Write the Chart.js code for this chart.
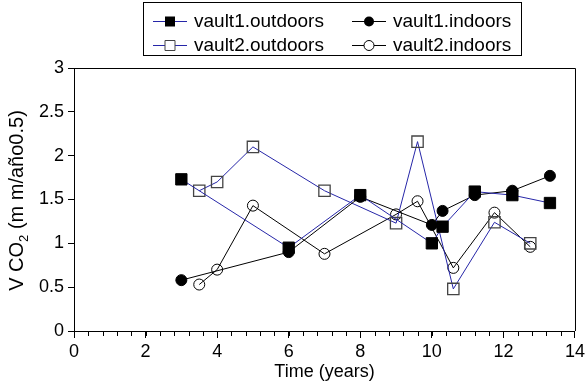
<!DOCTYPE html>
<html>
<head>
<meta charset="utf-8">
<script src="https://cdn.jsdelivr.net/npm/chart.js@4.4.1/dist/chart.umd.min.js"></script>
<style>
  html, body { margin: 0; padding: 0; background: #fff; }
  #wrap { width: 588px; height: 390px; }
</style>
</head>
<body>
<div id="wrap"><canvas id="chart" width="588" height="390"></canvas></div>
<script>
// sampling times (years) for each vault
const vault1Years = [3, 6, 8, 10, 10.3, 11.2, 12.25, 13.3];
const vault2Years = [3.5, 4, 5, 7, 9, 9.6, 10.6, 11.75, 12.75];

// carbonation rate, mm/año^0.5
const vault1Outdoors = [1.73, 0.95, 1.55, 1.0, 1.19, 1.59, 1.55, 1.46];
const vault1Indoors = [0.58, 0.90, 1.53, 1.21, 1.37, 1.55, 1.60, 1.77];
const vault2Outdoors = [1.60, 1.70, 2.10, 1.60, 1.23, 2.16, 0.48, 1.24, 1.0];
const vault2Indoors = [0.53, 0.70, 1.43, 0.88, 1.33, 1.48, 0.72, 1.35, 0.96];

const seriesNames = ['vault1.outdoors', 'vault1.indoors', 'vault2.outdoors', 'vault2.indoors'];
const xTicks = [0, 2, 4, 6, 8, 10, 12, 14];
const yTicks = [0, 0.5, 1, 1.5, 2, 2.5, 3];

const FONT = '"Liberation Sans", Arial, Helvetica, sans-serif';
const BLUE = '#2626a8';

const toPoints = (xs, ys) => xs.map((x, i) => ({ x: x, y: ys[i] }));

// little helper used by the legend to draw the same markers
function marker(ctx, style, filled, x, y, r) {
  ctx.beginPath();
  if (style === 'rect') {
    ctx.rect(x - r, y - r, 2 * r, 2 * r);
  } else {
    ctx.arc(x, y, r, 0, Math.PI * 2);
  }
  if (filled) {
    ctx.fillStyle = '#000';
    ctx.fill();
  } else {
    ctx.fillStyle = '#fff';
    ctx.fill();
    ctx.strokeStyle = style === 'rect' ? '#444' : '#000';
    ctx.lineWidth = 1;
    ctx.stroke();
  }
}

const framePlugin = {
  id: 'frame',
  afterDraw(chart) {
    const ctx = chart.ctx;
    const a = chart.chartArea;
    const xs = chart.scales.x;
    ctx.save();

    // top and right edges of the plot box
    ctx.strokeStyle = '#000';
    ctx.lineWidth = 1;
    ctx.beginPath();
    ctx.moveTo(a.left, a.top + 0.5);
    ctx.lineTo(a.right + 0.5, a.top + 0.5);
    ctx.lineTo(a.right + 0.5, a.bottom);
    ctx.stroke();

    // minor ticks on the time axis
    ctx.beginPath();
    for (let v = 0.4; v < 14; v += 0.4) {
      const px = Math.round(xs.getPixelForValue(v)) + 0.5;
      ctx.moveTo(px, a.bottom);
      ctx.lineTo(px, a.bottom + 5);
    }
    ctx.stroke();

    // y axis title with subscript
    ctx.fillStyle = '#000';
    ctx.translate(17, (a.top + a.bottom) / 2 + 1);
    ctx.rotate(-Math.PI / 2);
    ctx.textBaseline = 'middle';
    const main = '20px ' + FONT;
    const sub = '13px ' + FONT;
    ctx.font = main;
    const p1 = 'V CO';
    const p3 = ' (m m/año0.5)';
    const w1 = ctx.measureText(p1).width;
    const w3 = ctx.measureText(p3).width;
    ctx.font = sub;
    const w2 = ctx.measureText('2').width;
    let tx = -(w1 + w2 + w3) / 2;
    ctx.font = main;
    ctx.textAlign = 'left';
    ctx.fillText(p1, tx, 0);
    ctx.font = sub;
    ctx.fillText('2', tx + w1, 7);
    ctx.font = main;
    ctx.fillText(p3, tx + w1 + w2, 0);
    ctx.restore();

    // legend box
    ctx.save();
    ctx.strokeStyle = '#000';
    ctx.lineWidth = 1;
    ctx.strokeRect(143.5, 2.5, 378, 53);
    ctx.font = '19px ' + FONT;
    ctx.textBaseline = 'middle';
    ctx.fillStyle = '#000';
    const cols = [153, 352];
    const rows = [21, 45];
    chart.data.datasets.forEach((ds, i) => {
      const col = cols[i % 2];
      const row = rows[Math.floor(i / 2)];
      ctx.strokeStyle = ds.borderColor;
      ctx.lineWidth = 1;
      ctx.beginPath();
      ctx.moveTo(col, row + 0.5);
      ctx.lineTo(col + 34, row + 0.5);
      ctx.stroke();
      const filled = ds.pointBackgroundColor !== 'transparent';
      marker(ctx, ds.pointStyle, filled, col + 17, row + 0.5, 5);
      ctx.fillStyle = '#000';
      ctx.fillText(ds.label, col + 41, row + 1);
    });
    ctx.restore();
  }
};

const ctx = document.getElementById('chart').getContext('2d');
new Chart(ctx, {
  type: 'scatter',
  data: {
    datasets: [
      {
        label: seriesNames[0],
        data: toPoints(vault1Years, vault1Outdoors),
        showLine: true,
        borderColor: BLUE,
        borderWidth: 1,
        pointStyle: 'rect',
        pointRadius: 8,
        pointBackgroundColor: '#000',
        pointBorderColor: '#000',
        pointBorderWidth: 1
      },
      {
        label: seriesNames[1],
        data: toPoints(vault1Years, vault1Indoors),
        showLine: true,
        borderColor: '#000',
        borderWidth: 1,
        pointStyle: 'circle',
        pointRadius: 5.5,
        pointBackgroundColor: '#000',
        pointBorderColor: '#000',
        pointBorderWidth: 1
      },
      {
        label: seriesNames[2],
        data: toPoints(vault2Years, vault2Outdoors),
        showLine: true,
        borderColor: BLUE,
        borderWidth: 1,
        pointStyle: 'rect',
        pointRadius: 8,
        pointBackgroundColor: 'transparent',
        pointBorderColor: '#444',
        pointBorderWidth: 1.3
      },
      {
        label: seriesNames[3],
        data: toPoints(vault2Years, vault2Indoors),
        showLine: true,
        borderColor: '#000',
        borderWidth: 1,
        pointStyle: 'circle',
        pointRadius: 5.5,
        pointBackgroundColor: 'transparent',
        pointBorderColor: '#000',
        pointBorderWidth: 1
      }
    ]
  },
  options: {
    responsive: false,
    animation: false,
    layout: { padding: { left: 0, top: 68, right: 11, bottom: 0 } },
    plugins: {
      legend: { display: false },
      tooltip: { enabled: false }
    },
    scales: {
      x: {
        type: 'linear',
        min: 0,
        max: 14,
        afterBuildTicks: (s) => { s.ticks = xTicks.map(v => ({ value: v })); },
        afterFit: (s) => { s.height = 59; },
        border: { display: true, color: '#000', width: 1 },
        grid: { drawOnChartArea: false, color: '#000', tickLength: 7, tickColor: '#000' },
        ticks: {
          color: '#000',
          font: { family: FONT, size: 18 },
          padding: 3,
          maxRotation: 0,
          callback: (v) => String(v)
        },
        title: {
          display: true,
          text: 'Time (years)',
          color: '#000',
          font: { family: FONT, size: 18 },
          padding: { top: 0, bottom: 7 }
        }
      },
      y: {
        type: 'linear',
        min: 0,
        max: 3,
        afterBuildTicks: (s) => { s.ticks = yTicks.map(v => ({ value: v })); },
        afterFit: (s) => { s.width = 74; },
        border: { display: true, color: '#000', width: 1 },
        grid: { drawOnChartArea: false, color: '#000', tickLength: 6, tickColor: '#000' },
        ticks: {
          color: '#000',
          font: { family: FONT, size: 18 },
          padding: 4,
          callback: (v) => String(v)
        }
      }
    }
  },
  plugins: [framePlugin]
});
</script>
</body>
</html>
